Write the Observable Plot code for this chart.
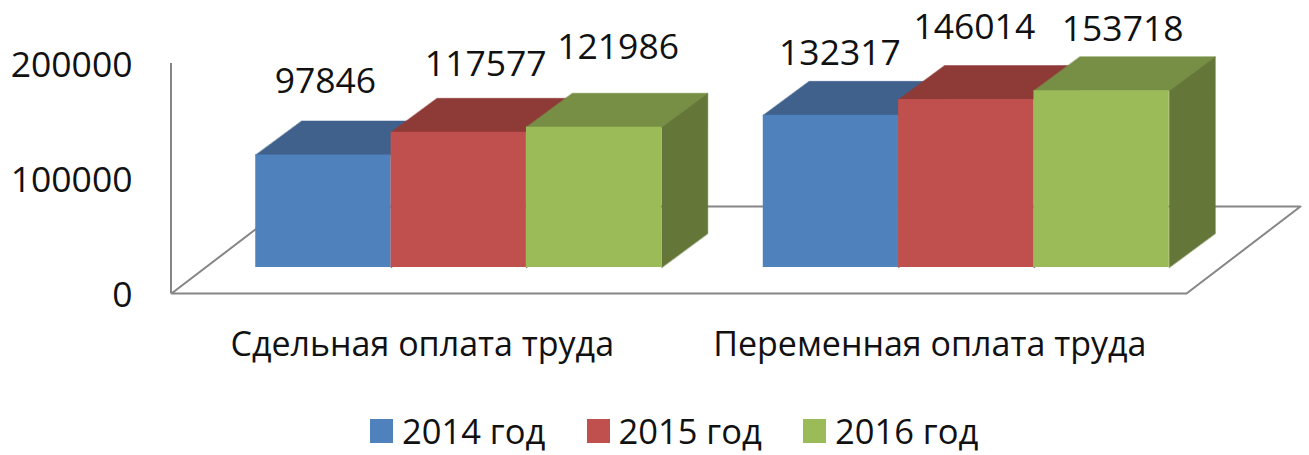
<!DOCTYPE html>
<html><head><meta charset="utf-8">
<script src="https://cdn.jsdelivr.net/npm/d3@7"></script>
<script src="https://cdn.jsdelivr.net/npm/@observablehq/plot@0.6"></script>
<style>
html,body{margin:0;padding:0;background:#fff;overflow:hidden}
body{width:1309px;height:455px;position:relative;font-family:"Open Sans",sans-serif}
#legend{position:absolute;left:370px;top:407px;display:flex;gap:0;align-items:center;font-size:34.5px;color:#111}
#legend .k{display:flex;align-items:center}
#legend i{display:block;width:23px;height:24px;margin-right:9px}
#legend span{display:block;width:184.5px;white-space:nowrap}
</style></head><body>
<div id="chart"></div><div id="legend"></div>
<script>
const categories = ["Сдельная оплата труда", "Переменная оплата труда"];
const years = ["2014 год", "2015 год", "2016 год"];
const values2014 = [97846, 132317];
const values2015 = [117577, 146014];
const values2016 = [121986, 153718];
const yTicks = [0, 100000, 200000];
const frontColors = ["#4F81BD", "#C0504D", "#9BBB59"];
const topColors = ["#3F618C", "#8E3B38", "#778F45"];
const sideColors = ["#324D70", "#722F2D", "#647739"];

const series = [values2014, values2015, values2016];
// slots: each category spans 3.75 bar widths, with bars centred in it
const slotsPerCategory = 3.75, sidePad = 0.375;
const depthX = 0.34, depthY = 29565;        // bar depth in scale units
const floorX = 0.842, floorY = 75650;       // floor depth in scale units
const insetDx = 33.5, insetDy = -26;        // bars stand inside the floor

const bars = [];
categories.forEach((c, ci) => years.forEach((yr, yi) => {
  const x1 = ci * slotsPerCategory + sidePad + yi;
  bars.push({c, yr, yi, ci, x1, x2: x1 + 1, v: series[yi][ci]});
}));
const faces = [];
bars.forEach((b, i) => {
  [[b.x1,b.v],[b.x2,b.v],[b.x2+depthX,b.v+depthY],[b.x1+depthX,b.v+depthY]]
    .forEach(([x,y]) => faces.push({id:"t"+i, x, y, fill: topColors[b.yi]}));
  [[b.x2,0],[b.x2,b.v],[b.x2+depthX,b.v+depthY],[b.x2+depthX,depthY]]
    .forEach(([x,y]) => faces.push({id:"s"+i, x, y, fill: sideColors[b.yi]}));
});
const W = categories.length * slotsPerCategory;
const floor = [[0,0],[W,0],[W+floorX,floorY],[floorX,floorY],[0,0]].map(([x,y]) => ({x,y}));
const labelNudges = [[2,-73],[27,-68],[24,-80],[9,-62],[8,-72],[21,-61]];

const marks = [
  Plot.line(floor, {x:"x", y:"y", stroke:"#868686", strokeWidth:2}),
  Plot.ruleX([0], {y1:0, y2:200000, stroke:"#868686", strokeWidth:2, dx:-0.5}),
  Plot.line(faces, {x:"x", y:"y", z:"id", fill:"fill", stroke:"fill", strokeWidth:0.5, dx:insetDx, dy:insetDy, curve:"linear-closed"}),
  Plot.rect(bars, {x1:"x1", x2:"x2", y1:()=>0, y2:"v", fill:d=>frontColors[d.yi], dx:insetDx, dy:insetDy}),
  Plot.axisY({ticks:yTicks, tickSize:0, tickPadding:39, tickFormat:d=>String(d), label:null, anchor:"left", fontSize:35.5, dy:2}),
  Plot.text(categories, {x:(d,i)=>(i+0.5)*slotsPerCategory, y:()=>0, text:d=>d, dy:52, dx:-3, fontSize:34, fill:"#111"})
];
bars.forEach((b,i) => {
  const [ndx,ndy] = labelNudges[i];
  marks.push(Plot.text([b], {x:d=>(d.x1+d.x2)/2, y:"v", text:d=>String(d.v), dx:insetDx+ndx, dy:insetDy+ndy, fontSize:35.5, fill:"#111"}));
});

const plot = Plot.plot({
  width:1309, height:404, marginLeft:171, marginRight:9, marginTop:63, marginBottom:111,
  style:{fontFamily:'"Open Sans",sans-serif', background:"#fff", color:"#111", overflow:"visible"},
  x:{domain:[0, W+floorX], axis:null},
  y:{domain:[0,200000]},
  marks
});
document.getElementById("chart").appendChild(plot);
const lg = document.getElementById("legend");
years.forEach((y,i) => {
  const k = document.createElement("div"); k.className="k";
  const sw = document.createElement("i"); sw.style.background = frontColors[i];
  const s = document.createElement("span"); s.textContent = y;
  k.append(sw,s); lg.append(k);
});
</script></body></html>
